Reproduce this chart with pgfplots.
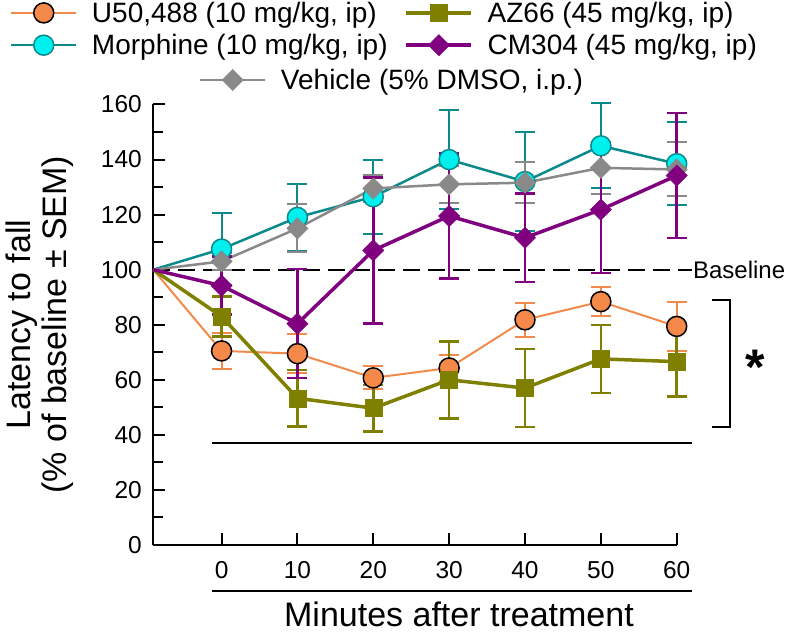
\documentclass[border=0pt]{standalone}
\usepackage{pgfplots}
\pgfplotsset{compat=1.18}
\usepackage{pgfplotstable}
\usepackage{fontspec}
\setmainfont{Liberation Sans}

\definecolor{uline}{HTML}{F28A4C}
\definecolor{ufill}{HTML}{F5894A}
\definecolor{mline}{HTML}{0A8A8A}
\definecolor{mfill}{HTML}{00F0F0}
\definecolor{aline}{HTML}{808000}
\definecolor{cline}{HTML}{800080}
\definecolor{vline}{HTML}{898989}

% t, mean, SEM (% of baseline)
\pgfplotstableread{
t y e
0 70.5 6.5
10 69.5 7.2
20 60.7 4.2
30 64.3 4.8
40 81.8 6.2
50 88.4 5.4
60 79.4 9.0
}\uData
\pgfplotstableread{
t y e
0 107.5 13.0
10 119.0 12.3
20 126.5 13.5
30 140.0 18.0
40 132.0 18.0
50 145.0 15.5
60 138.5 15.0
}\mData
\pgfplotstableread{
t y e
0 103.0 3.0
10 115.0 8.7
20 129.5 5.0
30 131.0 6.6
40 131.6 7.5
50 137.0 9.5
60 136.4 9.8
}\vData
\pgfplotstableread{
t y e
0 83.0 7.2
10 53.3 10.2
20 49.7 8.5
30 60.0 14.0
40 57.0 14.2
50 67.6 12.4
60 66.6 12.6
}\aData
\pgfplotstableread{
t y e
0 94.2 10.5
10 80.4 19.8
20 107.0 26.5
30 119.5 22.7
40 111.6 16.0
50 121.8 23.0
60 134.2 22.7
}\cData

\pgfplotsset{
  useries/.style={color=uline, line width=2pt, mark=*, mark size=10pt,
    mark options={solid, fill=ufill, draw=black, line width=1.5pt}},
  mseries/.style={color=mline, line width=2.5pt, mark=*, mark size=10pt,
    mark options={solid, fill=mfill, draw=mline, line width=1.5pt}},
  vseries/.style={color=vline, line width=2.5pt, mark=square*, mark size=7.5pt,
    mark options={solid, rotate=45, fill=vline, draw=vline, line width=0.5pt}},
  aseries/.style={color=aline, line width=3.5pt, mark=square*, mark size=8.5pt,
    mark options={solid, fill=aline, draw=aline, line width=0.5pt}},
  cseries/.style={color=cline, line width=3.5pt, mark=square*, mark size=7.5pt,
    mark options={solid, rotate=45, fill=cline, draw=cline, line width=0.5pt}},
  errs/.style={/pgfplots/error bars/y dir=both, /pgfplots/error bars/y explicit,
    /pgfplots/error bars/error bar style={line width=#1},
    /pgfplots/error bars/error mark options={rotate=90, line width=#1, mark size=10pt}},
  leg/.style={
    legend style={draw=none, fill=none, inner sep=0pt, outer sep=0pt,
      font=\fontsize{28}{32}\selectfont, row sep=6.5pt,
      nodes={inner sep=2pt},
      /tikz/every odd column/.append style={column sep=12.5pt},
      /tikz/every even column/.append style={column sep=15pt}},
    legend cell align=left,
    legend image code/.code={
      \draw[mark repeat=2,mark phase=2] plot coordinates {(0pt,0pt) (32.5pt,0pt) (65pt,0pt)};
    },
  },
  frame/.style={scale only axis, width=523.4pt, height=440.5pt,
    xmin=-9, xmax=60, ymin=0, ymax=160},
}

\begin{document}
\begin{tikzpicture}
\begin{axis}[
  name=ax, frame, leg,
  legend columns=2,
  legend style={at={(axis description cs:-0.2738,1.2372)}, anchor=north west},
  axis x line=bottom, axis y line=left,
  axis line style={-, line width=2pt},
  xtick={0,10,...,60}, ytick={0,20,...,160},
  minor ytick={10,30,...,150},
  tick align=inside,
  major tick length=12pt, minor tick length=10pt,
  every tick/.style={black, line width=2pt},
  ticklabel style={font=\fontsize{24.5}{28}\selectfont},
  xticklabel style={yshift=-13pt},
  yticklabel style={xshift=-8pt},
  /pgf/number format/assume math mode=true,
  xlabel={Minutes after treatment},
  xlabel style={at={(axis description cs:0.584,-0.1839)}, anchor=base,
    font=\fontsize{34}{40}\selectfont},
  ylabel={Latency to fall\\(\% of baseline ± SEM)},
  ylabel style={at={(axis description cs:-0.2165,0.5)}, anchor=center,
    align=center, font=\fontsize{34}{36}\selectfont},
  clip=false,
]
\addlegendimage{useries}\addlegendentry{U50,488 (10 mg/kg, ip)}
\addlegendimage{aseries}\addlegendentry{AZ66 (45 mg/kg, ip)}
\addlegendimage{mseries}\addlegendentry{Morphine (10 mg/kg, ip)}
\addlegendimage{cseries}\addlegendentry{CM304 (45 mg/kg, ip)}

% baseline
\addplot[forget plot, black, line width=2pt, dash pattern=on 17pt off 8pt]
  coordinates {(-9,100) (62,100)};
\node[anchor=west, inner sep=1pt, font=\fontsize{24}{28}\selectfont]
  at (axis cs:62,100) {Baseline};

% U50,488
\addplot[forget plot, uline, line width=2pt] coordinates {(-9,100) (0,70.5)};
\addplot[forget plot, useries, errs=2pt] table[x=t, y=y, y error=e] {\uData};
% Morphine
\addplot[forget plot, mline, line width=2.5pt] coordinates {(-9,100) (0,107.5)};
\addplot[forget plot, mseries, errs=2pt] table[x=t, y=y, y error=e] {\mData};
% Vehicle
\addplot[forget plot, vline, line width=2.5pt] coordinates {(-9,100) (0,103)};
\addplot[forget plot, vseries, errs=2pt] table[x=t, y=y, y error=e] {\vData};
% AZ66
\addplot[forget plot, aline, line width=3.5pt] coordinates {(-9,100) (0,83)};
\addplot[forget plot, aseries, errs=2.5pt] table[x=t, y=y, y error=e] {\aData};
% CM304
\addplot[forget plot, cline, line width=3.5pt] coordinates {(-9,100) (0,94.2)};
\addplot[forget plot, cseries, errs=2.5pt] table[x=t, y=y, y error=e] {\cData};

% annotations
\draw[line width=2pt] (axis cs:-1.2,37) -- (axis cs:62,37);
\draw[line width=2pt] (axis cs:64.7,89.1) -- (axis cs:67,89.1)
  -- (axis cs:67,42.9) -- (axis cs:64.7,42.9);
\node[font=\fontsize{50}{50}\selectfont\bfseries] at (axis cs:70.3,64.5) {*};
\draw[line width=2pt] (axis cs:-1.2,-16.7) -- (axis cs:62,-16.7);
\end{axis}

\begin{axis}[frame, leg, hide axis, at={(ax.south west)}, anchor=south west,
  legend style={at={(axis description cs:0.0873,1.0556)}, anchor=west}]
\addlegendimage{vseries}\addlegendentry{Vehicle (5\% DMSO, i.p.)}
\end{axis}

\pgfresetboundingbox
\path[use as bounding box] ([xshift=-153.3pt,yshift=-87pt]ax.south west)
  rectangle ++(787pt,632pt);
\end{tikzpicture}
\end{document}
